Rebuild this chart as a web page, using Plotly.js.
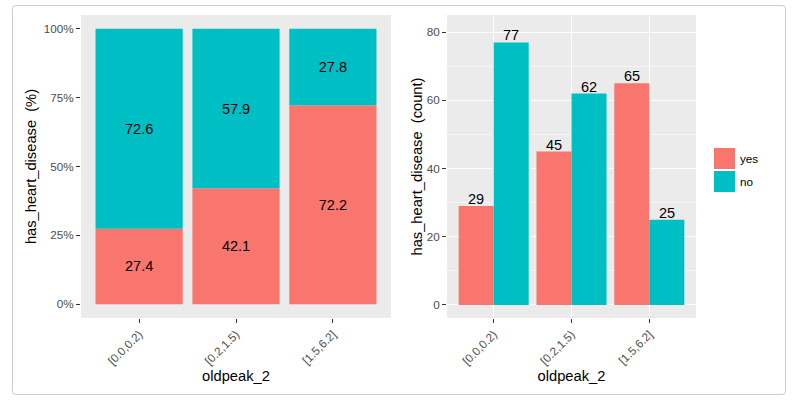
<!DOCTYPE html>
<html>
<head>
<meta charset="utf-8">
<script src="https://cdn.plot.ly/plotly-3.0.1.min.js"></script>
<style>
  html, body { margin: 0; padding: 0; background: #ffffff; }
  #wrap { position: relative; width: 806px; height: 409px; }
  #chart { width: 806px; height: 409px; }
  #frame { position: absolute; left: 12px; top: 5px; width: 772px; height: 388px;
           border: 1px solid #cccccc; border-radius: 4px; pointer-events: none; }
</style>
</head>
<body>
<div id="wrap">
  <div id="chart"></div>
  <div id="frame"></div>
</div>
<script>
// ---- data ----
const categories = ["[0.0,0.2)", "[0.2,1.5)", "[1.5,6.2]"];
const seriesNames = ["yes", "no"];
const pctYes = [27.4, 42.1, 72.2];
const pctNo = [72.6, 57.9, 27.8];
const countYes = [29, 45, 65];
const countNo = [77, 62, 25];
const pctTicks = [0, 0.25, 0.5, 0.75, 1];
const countTicks = [0, 20, 40, 60, 80];

const colYes = "#F8766D";
const colNo = "#00BFC4";
const W = 806, H = 409;
const px = v => v / W;
const py = v => 1 - v / H;
const FONT = "Liberation Sans, Arial, sans-serif";
const barW = 0.45;

const traces = [
  { type: "bar", x: categories, y: pctYes.map(v => v / 100), base: 0,
    width: 0.9, xaxis: "x", yaxis: "y", name: seriesNames[0],
    marker: { color: colYes }, text: pctYes.map(v => v.toFixed(1)),
    textposition: "inside", insidetextanchor: "middle",
    insidetextfont: { color: "#000000", size: 14.5, family: FONT },
    constraintext: "none", hoverinfo: "skip", showlegend: false },
  { type: "bar", x: categories, y: pctNo.map(v => v / 100), base: pctYes.map(v => v / 100),
    width: 0.9, xaxis: "x", yaxis: "y", name: seriesNames[1],
    marker: { color: colNo }, text: pctNo.map(v => v.toFixed(1)),
    textposition: "inside", insidetextanchor: "middle",
    insidetextfont: { color: "#000000", size: 14.5, family: FONT },
    constraintext: "none", hoverinfo: "skip", showlegend: false },
  { type: "bar", x: categories, y: countYes, width: barW, offset: -barW,
    xaxis: "x2", yaxis: "y2", name: seriesNames[0],
    marker: { color: colYes }, hoverinfo: "skip", showlegend: false },
  { type: "bar", x: categories, y: countNo, width: barW, offset: 0,
    xaxis: "x2", yaxis: "y2", name: seriesNames[1],
    marker: { color: colNo }, hoverinfo: "skip", showlegend: false }
];

const tickFont = { family: FONT, size: 11.7, color: "#4d4d4d" };
const titleFont = { family: FONT, size: 14.7, color: "#000000" };
const yDom = [py(318), py(15)];

const xCommon = {
  type: "category", range: [-0.6, 2.6], tickangle: -45, tickfont: tickFont,
  ticks: "outside", ticklen: 4, tickwidth: 1, tickcolor: "#333333",
  showline: false, zeroline: false, automargin: false, fixedrange: true
};

// count labels above the dodged bars
const countLabels = [];
categories.forEach((c, i) => {
  countLabels.push({ xref: "x2", yref: "y2", x: i - barW / 2, y: countYes[i],
    text: String(countYes[i]), showarrow: false, xanchor: "center", yanchor: "bottom",
    yshift: -3, font: { family: FONT, size: 14.5, color: "#000000" } });
  countLabels.push({ xref: "x2", yref: "y2", x: i + barW / 2, y: countNo[i],
    text: String(countNo[i]), showarrow: false, xanchor: "center", yanchor: "bottom",
    yshift: -3, font: { family: FONT, size: 14.5, color: "#000000" } });
});

const layout = {
  width: W, height: H,
  margin: { l: 0, r: 0, t: 0, b: 0 },
  paper_bgcolor: "#ffffff",
  plot_bgcolor: "#EBEBEB",
  barmode: "overlay",
  showlegend: false,
  font: { family: FONT },
  xaxis: Object.assign({}, xCommon, {
    domain: [px(81), px(391)], anchor: "y", showgrid: false,
    title: { text: "oldpeak_2", font: titleFont, standoff: 4 }
  }),
  yaxis: {
    domain: yDom, anchor: "x", range: [-0.05, 1.05],
    tickvals: pctTicks, tickformat: ".0%", tickfont: tickFont,
    ticks: "outside", ticklen: 4, tickwidth: 1, tickcolor: "#333333",
    showgrid: false, zeroline: false, showline: false, automargin: false, fixedrange: true,
    title: { text: "has_heart_disease \u00a0(%)", font: titleFont, standoff: 3 }
  },
  xaxis2: Object.assign({}, xCommon, {
    domain: [px(447), px(696)], anchor: "y2",
    showgrid: true, gridcolor: "#ffffff", gridwidth: 1.1,
    title: { text: "oldpeak_2", font: titleFont, standoff: 4 }
  }),
  yaxis2: {
    domain: yDom, anchor: "x2", range: [-3.85, 85.05],
    tickvals: countTicks, tickfont: tickFont,
    ticks: "outside", ticklen: 4, tickwidth: 1, tickcolor: "#333333",
    showgrid: true, gridcolor: "#ffffff", gridwidth: 1.1,
    minor: { dtick: 10, tick0: 0, showgrid: true, gridcolor: "#ffffff", gridwidth: 0.55, ticks: "" },
    zeroline: false, showline: false, automargin: false, fixedrange: true,
    title: { text: "has_heart_disease \u00a0(count)", font: titleFont, standoff: 0 }
  },
  shapes: [
    { type: "rect", xref: "paper", yref: "paper", x0: px(714), x1: px(735), y0: py(169), y1: py(148),
      fillcolor: colYes, line: { width: 0 } },
    { type: "rect", xref: "paper", yref: "paper", x0: px(714), x1: px(735), y0: py(192), y1: py(171),
      fillcolor: colNo, line: { width: 0 } }
  ],
  annotations: countLabels.concat([
    { xref: "paper", yref: "paper", x: px(738), y: py(158.5), xanchor: "left", yanchor: "middle",
      text: seriesNames[0], showarrow: false, font: { family: FONT, size: 11.7, color: "#000000" } },
    { xref: "paper", yref: "paper", x: px(738), y: py(181.5), xanchor: "left", yanchor: "middle",
      text: seriesNames[1], showarrow: false, font: { family: FONT, size: 11.7, color: "#000000" } }
  ])
};

Plotly.newPlot("chart", traces, layout, { displayModeBar: false, staticPlot: true });
</script>
</body>
</html>
